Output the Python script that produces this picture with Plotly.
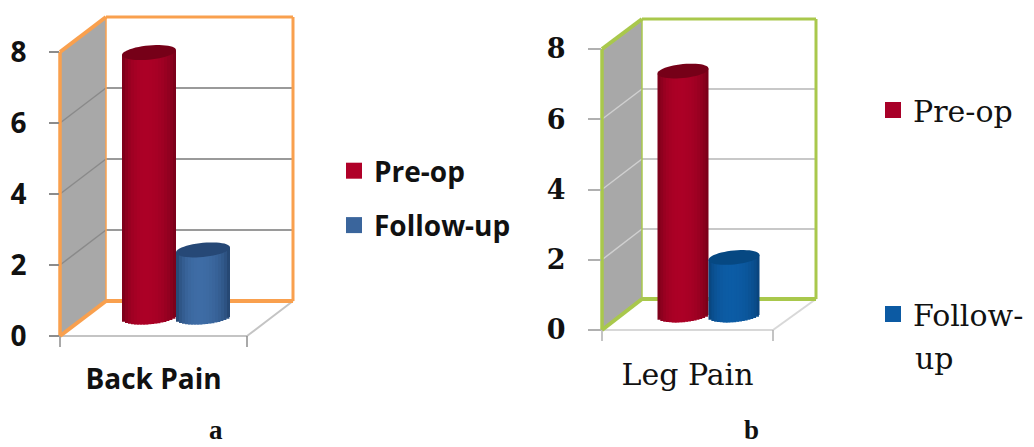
import plotly.graph_objects as go
import math

W, H = 1034, 447
# ---- data ----
series_names = ["Pre-op", "Follow-up"]
back_values = [7.45, 1.89]
leg_values = [6.95, 1.64]
back_category = ["Back Pain"]
leg_category = ["Leg Pain"]
y_ticks = [0, 2, 4, 6, 8]


def X(p): return p / W
def Y(p): return 1 - p / H
def mix(a, b, f):
    return "rgb(%d,%d,%d)" % tuple(round(a[i] + (b[i] - a[i]) * f) for i in range(3))


fig = go.Figure()
shapes, N = [], 18


def line(x0, y0, x1, y1, color, width):
    shapes.append(dict(type="line", xref="paper", yref="paper", x0=X(x0), y0=Y(y0), x1=X(x1), y1=Y(y1),
                       line=dict(color=color, width=width), layer="below"))


def poly(pts, fill, color=None, width=0):
    path = "M " + " L ".join(f"{X(a):.5f},{Y(b):.5f}" for a, b in pts) + " Z"
    shapes.append(dict(type="path", xref="paper", yref="paper", path=path, fillcolor=fill,
                       line=dict(color=color or fill, width=width), layer="below"))


def frame(fx, fy0, fy8, bx, by0, by8, rx, frx, frame_col, grid_wall, grid_back, floor_col, tick_col):
    poly([(fx, fy0), (fx, fy8), (bx, by8), (bx, by0)], "#a8a8a8")
    for v in y_ticks[1:-1]:
        f = fy0 + (fy8 - fy0) * v / 8
        b = by0 + (by8 - by0) * v / 8
        line(fx, f, bx, b, grid_wall, 1.5)
        line(bx, b, rx, b, grid_back, 2)
    line(fx, fy0, frx, fy0, floor_col, 2)
    line(frx, fy0, rx, by0, floor_col, 2)
    line(fx, fy0, fx, fy0 + 11, tick_col, 1.5)
    line(frx, fy0, frx, fy0 + 11, tick_col, 1.5)
    line(bx, by0, bx, by8, frame_col, 1.5)
    line(rx, by0, bx, by0, frame_col, 4)
    line(rx, by0, rx, by8, frame_col, 3)
    line(bx, by8, rx, by8, frame_col, 3)
    line(fx, fy0, fx, fy8, frame_col, 3.5)
    line(fx, fy8, bx, by8, frame_col, 4)
    line(fx, fy0, bx, by0, frame_col, 4)


def cylinder(value, name, category, xa, ya, left, width, edge, centre, cap, peak=-0.15, b=0.2, tilt=0.07):
    # left and width in x-axis units; adjacent strips give the round shading
    for i in range(N):
        t = -1 + (2 * i + 1) / N
        f = max(0.0, 1 - ((t - peak) / (1 - peak if t > peak else 1 + peak)) ** 2) ** 0.6
        x0 = left + width * i / N
        base = -b * math.sqrt(max(0, 1 - t * t)) + tilt * t
        top = value + tilt * t
        fig.add_trace(go.Bar(x=category, y=[top - base], base=[base], offset=x0,
                             width=width / N * 1.8 if i < N - 1 else width / N,
                             marker=dict(color=mix(edge, centre, f), line=dict(width=0)),
                             name=name, showlegend=False, hoverinfo="skip", xaxis=xa, yaxis=ya))
    pts = []
    cx = left + width / 2
    for k in range(48):
        a = 2 * math.pi * k / 48
        pts.append((cx + width / 2 * math.cos(a), value + b * math.sin(a) + tilt * math.cos(a)))
    path = "M " + " L ".join(f"{p:.4f},{q:.4f}" for p, q in pts) + " Z"
    shapes.append(dict(type="path", xref=xa, yref=ya, path=path, fillcolor="rgb(%d,%d,%d)" % cap,
                       line=dict(width=0), layer="above"))


# ---- left chart ----
frame(60, 336, 52, 106, 301, 17, 293, 247, "#f9a04e", "#8a8a8a", "#9a9a9a", "#c4c4c4", "#8c8c8c")
cylinder(back_values[0], series_names[0], back_category, "x3", "y3", -54 / 187, 54 / 187,
         (108, 0, 22), (172, 0, 38), (118, 0, 24))
cylinder(back_values[1], series_names[1], back_category, "x3", "y3", 0, 54 / 187,
         (30, 60, 100), (62, 108, 165), (38, 72, 118))
# ---- right chart ----
frame(602, 330, 49, 642, 299, 19, 816, 773, "#a9c84c", "#d0d0d0", "#c8c8c8", "#d8d8d8", "#b0b0b0")
cylinder(leg_values[0], series_names[0], leg_category, "x4", "y4", -51 / 171, 51 / 171,
         (108, 0, 22), (172, 0, 38), (118, 0, 24))
cylinder(leg_values[1], series_names[1], leg_category, "x4", "y4", 0, 51 / 171,
         (8, 62, 115), (12, 92, 165), (6, 72, 130))

# legend entries and axis holder traces
legend_colors = [("#b00028", "#3a659c"), ("#a80028", "#0c5aa3")]
for idx, (cat, xa_, ya_, lg) in enumerate([(back_category, "x", "y", "legend"), (leg_category, "x2", "y2", "legend2")]):
    fig.add_trace(go.Scatter(x=cat, y=[None], mode="markers", showlegend=False, xaxis=xa_, yaxis=ya_, hoverinfo="skip"))
    labels = [series_names[0], series_names[1] if idx == 0 else "Follow-"]
    for n, c in zip(labels, legend_colors[idx]):
        fig.add_trace(go.Scatter(x=[None], y=[None], mode="markers", name=n, legend=lg, legendgroup=n,
                                 marker=dict(symbol="square", size=16, color=c), xaxis=xa_, yaxis=ya_))

SANS = dict(family="Open Sans", size=28, color="#111111", weight=700)
SERIF = dict(family="DejaVu Serif", size=27, color="#111111", weight=700)
SERIF_X = dict(family="DejaVu Serif", size=30, color="#111111")
SANS_X = dict(family="Open Sans", size=28, color="#111111", weight=700)
LEG_SERIF = dict(family="DejaVu Serif", size=30, color="#111111")


def xa(d0, d1, tick=False, font=None, anchor="y"):
    a = dict(domain=[X(d0), X(d1)], type="category", range=[-0.5, 0.5], showgrid=False, zeroline=False,
             showline=False, anchor=anchor, fixedrange=True, ticks="")
    if tick:
        a.update(tickfont=font, ticklabelstandoff=24, showticklabels=True)
    else:
        a.update(showticklabels=False)
    return a


def ya_main(p0, p8, font, anchor, col, tlen):
    return dict(domain=[Y(p0), Y(p8)], range=[0, 8], tickvals=y_ticks, showgrid=False, zeroline=False,
                showline=False, ticks="outside", ticklen=tlen, tickwidth=1.5, tickcolor=col,
                tickfont=font, anchor=anchor, ticklabelstandoff=17, fixedrange=True)


def ya_bar(p_base, scale, anchor):
    low = p_base + 0.5 * scale
    high = p_base - 8 * scale
    return dict(domain=[Y(low), Y(high)], range=[-0.5, 8], visible=False, anchor=anchor, fixedrange=True)


fig.update_layout(
    width=W, height=H, autosize=False, margin=dict(l=0, r=0, t=0, b=0, autoexpand=False),
    paper_bgcolor="white", plot_bgcolor="rgba(0,0,0,0)", barmode="overlay", shapes=shapes,
    xaxis=xa(60, 247, True, SANS_X, "y"),
    yaxis=ya_main(336, 52, SANS, "x", "#8c8c8c", 10),
    xaxis2=xa(602, 773, True, SERIF_X, "y2"),
    yaxis2=ya_main(330, 49, SERIF, "x2", "#b0b0b0", 13),
    xaxis3=xa(176 - 93.5, 176 + 93.5, anchor="y3"),
    yaxis3=ya_bar(317, 35.5, "x3"),
    xaxis4=xa(708.5 - 85.5, 708.5 + 85.5, anchor="y4"),
    yaxis4=ya_bar(315, 35.1, "x4"),
    legend=dict(x=X(334), y=Y(146), xanchor="left", yanchor="top", font=SANS_X, tracegroupgap=15,
                itemclick=False, itemdoubleclick=False, bgcolor="rgba(0,0,0,0)"),
    legend2=dict(x=X(873), y=Y(84), xanchor="left", yanchor="top", font=LEG_SERIF, tracegroupgap=162,
                 itemclick=False, itemdoubleclick=False, bgcolor="rgba(0,0,0,0)"),
    annotations=[
        dict(text="up", xref="paper", yref="paper", x=X(913), y=Y(358), xanchor="left", yanchor="middle",
             showarrow=False, font=LEG_SERIF),
        dict(text="a", xref="paper", yref="paper", x=X(216), y=Y(430), xanchor="center", yanchor="middle",
             showarrow=False, font=dict(family="Liberation Serif", size=27, color="#111111", weight=700)),
        dict(text="b", xref="paper", yref="paper", x=X(751), y=Y(430), xanchor="center", yanchor="middle",
             showarrow=False, font=dict(family="Liberation Serif", size=27, color="#111111", weight=700)),
    ],
)
fig.write_html("out.html", config=dict(displayModeBar=False),
               post_script="document.body.style.margin='0';document.documentElement.style.overflow='hidden';")
